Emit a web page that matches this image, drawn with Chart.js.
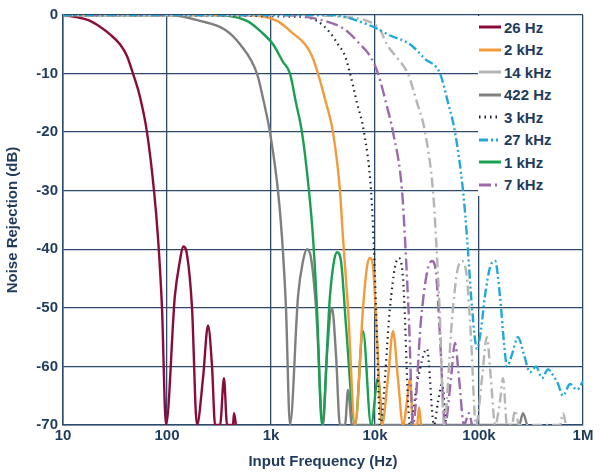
<!DOCTYPE html>
<html><head><meta charset="utf-8">
<script src="https://cdn.jsdelivr.net/npm/chart.js@4.4.0/dist/chart.umd.min.js"></script>
<style>
body{margin:0;background:#fff;font-family:"Liberation Sans",Arial,sans-serif}
#wrap{position:relative;width:600px;height:475px}
#legend{position:absolute;left:478px;top:16px;width:104px;height:180px;background:#fff;font-weight:bold;color:#1f3b5c;font-size:15px}
#legend div{height:22.5px;display:flex;align-items:center}
#legend svg{margin-right:2px}
</style></head><body>
<div id="wrap"><canvas id="c" width="600" height="475"></canvas><div id="legend"></div></div>
<script>
const xTicks=[10,100,1000,10000,100000,1000000];
const xTickLabels=['10','100','1k','10k','100k','1M'];
const yTicks=[0,-10,-20,-30,-40,-50,-60,-70];
const seriesNames=['26 Hz','2 kHz','14 kHz','422 Hz','3 kHz','27 kHz','1 kHz','7 kHz'];

const f26=[10,13,18.2,22.7,28.3,35.3,41.2,47.1,55,64.2,75,81.9,89.5,97.8,119,133,143,156,174,194,222,248,271,290,324,353,378,431,441,460];
const d26=[0,-0.3,-1,-2,-3.3,-5,-7,-10,-14,-20,-30,-38,-50,-70,-48,-42,-39.5,-41,-50,-70,-62,-53,-60,-70,-70,-62,-70,-70,-68,-70];
const f422=[10,107,207,361,504,733,857,977,1167,1276,1393,1523,1820,2032,2218,2427,2710,3162,3451,3861,4217,4603,5150,5500,6012,242700,265000,290000];
const d422=[0,0,-1,-2.5,-5,-10,-15,-20,-30,-38,-50,-70,-48,-42,-40,-41.5,-50,-70,-58,-50,-58,-70,-70,-64,-70,-70,-68,-70];
const f1k=[10,259,587,818,1045,1303,1523,1739,1985,2317,2535,2767,3090,3689,4036,4315,4710,5260,6427,7674,9162,10690,11670];
const d1k=[0,0,-1,-3,-5,-8,-10,-15,-20,-30,-38,-50,-70,-48,-42,-40.5,-42,-53,-70,-54,-70,-62,-70];
const f2k=[10,504,1143,1592,2123,2477,2831,3381,3945,4603,4920,5500,6427,7674,8375,8954,9572,10450,11670,13330,14900,16600,18600,20300,21700,23200,25400,26500,27700];
const d2k=[0,0,-1,-3,-5,-7,-10,-15,-20,-30,-38,-50,-70,-50,-43,-41.5,-43,-55,-70,-62,-54,-62,-70,-66,-62,-70,-70,-67,-70];
const f3k=[10,1901,2767,3689,4406,5150,5754,6714,7834,9162,9772,10450,11170,13930,15560,17000,18600,21700,25900,31600,36900,40400,44100,48200];
const d3k=[0,-0.3,-1,-3,-5,-7,-10,-15,-20,-30,-40,-55,-70,-50,-43,-41.5,-45,-70,-62,-57,-70,-66,-63,-70];
const f7k=[10,1222,2958,5150,7178,8954,10690,12770,14900,18200,19400,21200,23200,27700,31600,35300,38600,42200,47100,53800,58800,64200,71800,80200,85700];
const d7k=[0,0,-0.8,-2.5,-5,-7,-10,-15,-20,-30,-38,-52,-70,-52,-44,-42,-44,-55,-70,-62,-56,-62,-70,-68,-70];
const f14k=[10,1901,4603,8375,11170,13000,16600,20700,25400,30300,36100,38600,42200,46000,55000,61400,68700,76700,83700,93500,107000,119000,130000,143000,159000,170000,186000,207000,222000,243000,601000,643000,687000];
const d14k=[0,0,-0.3,-1,-2.5,-5,-7.5,-10,-15,-20,-30,-38,-52,-70,-52,-44,-42,-45,-55,-70,-62,-55,-62,-70,-66,-62,-70,-70,-67.5,-70,-70,-68,-70];
const f27k=[10,3689,9572,13930,21700,30300,42200,50400,58800,70200,76700,85700,95700,104000,114000,128000,143000,159000,174000,186000,207000,237000,271000,309000,353000,404000,460000,515000,575000,643000,750000,875000,1000000];
const d27k=[0,0,-2,-3.5,-5,-7.5,-10,-15,-20,-30,-38,-50,-57,-54,-48,-43,-42,-48,-56,-60,-58,-55,-58,-61,-60,-62,-60.5,-61.5,-63,-65,-63,-64,-62.5];

const pts=(f,d)=>f.map((x,i)=>({x:x,y:d[i]}));
const styles=[
 {c:'#8a0c3c',dash:[]},
 {c:'#f39a3a',dash:[]},
 {c:'#b5b5b5',dash:[10,4,2,4]},
 {c:'#7f7f7f',dash:[]},
 {c:'#1d2535',dash:[1.5,4]},
 {c:'#22a8d8',dash:[9,3,2,3,2,3]},
 {c:'#18a050',dash:[]},
 {c:'#9a6aab',dash:[12,4,2,4]}
];
const dataSets=[pts(f26,d26),pts(f2k,d2k),pts(f14k,d14k),pts(f422,d422),pts(f3k,d3k),pts(f27k,d27k),pts(f1k,d1k),pts(f7k,d7k)];
const drawOrder=[0,3,6,1,4,7,2,5];
const datasets=dataSets.map((d,i)=>({label:seriesNames[i],data:d,borderColor:styles[i].c,borderDash:styles[i].dash,borderWidth:i===4?2.2:2.4,pointRadius:0,cubicInterpolationMode:'monotone',fill:false,order:8-drawOrder.indexOf(i)}));

const tickFont={family:'"Liberation Sans",Arial',size:15,weight:'bold'};
new Chart(document.getElementById('c'),{
 type:'line',
 data:{datasets},
 options:{
  responsive:false,animation:false,
  layout:{padding:{top:15,right:17,left:0,bottom:0}},
  plugins:{legend:{display:false},tooltip:{enabled:false}},
  scales:{
   x:{type:'logarithmic',min:10,max:1000000,
     afterBuildTicks:s=>{s.ticks=xTicks.map(v=>({value:v}));},
     afterFit:s=>{s.height=50;},
     ticks:{color:'#1f3b5c',font:tickFont,padding:2,autoSkip:false,maxRotation:0,callback:v=>xTickLabels[xTicks.indexOf(v)]},
     grid:{color:'#2c4a6b',lineWidth:1.3,drawTicks:false},border:{color:'#2c4a6b',width:1.5},
     title:{display:true,text:'Input Frequency (Hz)',color:'#1f3b5c',font:{family:'"Liberation Sans",Arial',size:15,weight:'bold'},padding:{top:2}}},
   y:{min:-70,max:0,
     afterBuildTicks:s=>{s.ticks=yTicks.map(v=>({value:v}));},
     afterFit:s=>{s.width=63;},
     ticks:{color:'#1f3b5c',font:tickFont,padding:5},
     grid:{color:'#2c4a6b',lineWidth:1.3,drawTicks:false},border:{color:'#2c4a6b',width:1.5},
     title:{display:true,text:'Noise Rejection (dB)',color:'#1f3b5c',font:{family:'"Liberation Sans",Arial',size:15,weight:'bold'},padding:{bottom:2}}}
  }
 }
});
const lg=document.getElementById('legend');
seriesNames.forEach((n,i)=>{
 const s=styles[i];
 const dash=s.dash.length?(i===2?'':s.dash.join(',')):'';
 const row=document.createElement('div');
 row.innerHTML='<svg width="24" height="10"><line x1="1" y1="5" x2="23" y2="5" stroke="'+s.c+'" stroke-width="3" '+(dash?'stroke-dasharray="'+dash+'"':'')+'/></svg><span>'+n+'</span>';
 lg.appendChild(row);
});
</script></body></html>
